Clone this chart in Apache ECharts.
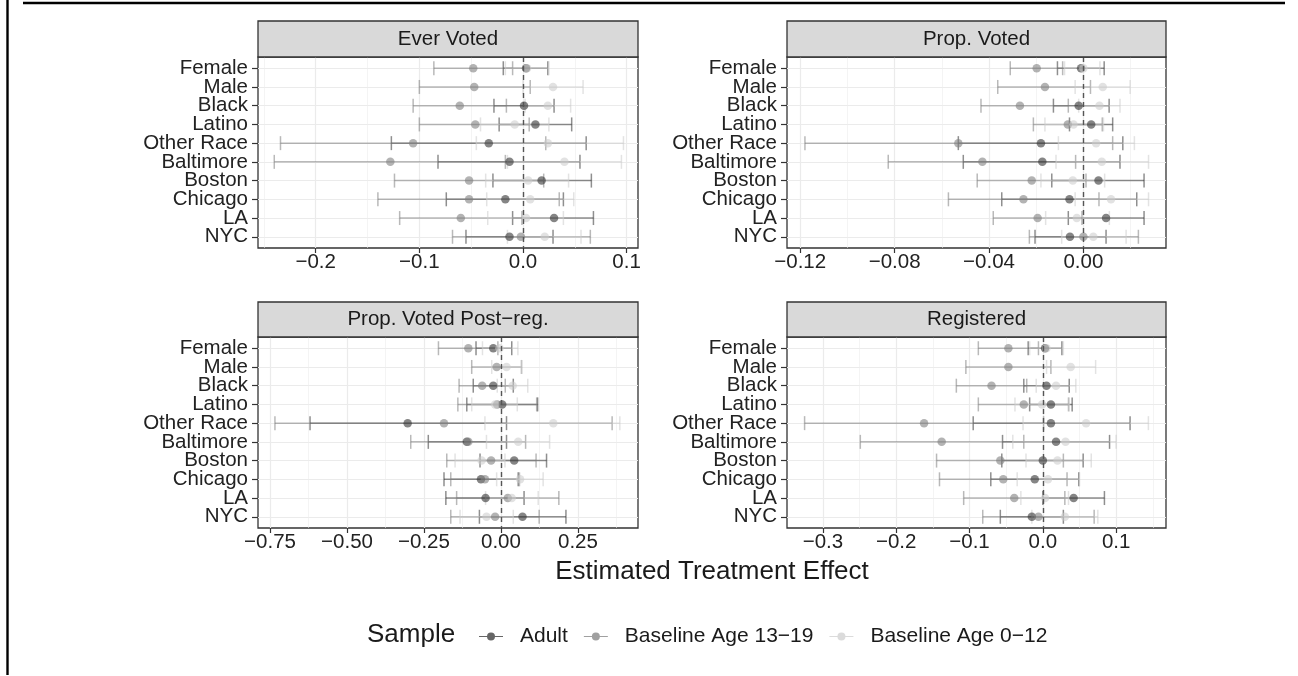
<!DOCTYPE html>
<html>
<head>
<meta charset="utf-8">
<script src="https://cdn.jsdelivr.net/npm/echarts@6/dist/echarts.min.js"></script>
<style>
html, body { margin: 0; padding: 0; background: #fff; }
#chart { width: 1298px; height: 676px; }
</style>
</head>
<body>
<div id="chart"></div>
<script>
const categories = ['Female', 'Male', 'Black', 'Latino', 'Other Race', 'Baltimore', 'Boston', 'Chicago', 'LA', 'NYC']
const sampleNames = ['Adult', 'Baseline Age 13−19', 'Baseline Age 0−12']
const panelTitles = ['Ever Voted', 'Prop. Voted', 'Prop. Voted Post−reg.', 'Registered']

// each row: [estimate, lower, upper], null = no estimate
const everVotedAdult = [[0.003, -0.019, 0.024], null, [0.001, -0.028, 0.030], [0.012, -0.023, 0.047], [-0.033, -0.127, 0.061],
    [-0.013, -0.082, 0.055], [0.018, -0.029, 0.066], [-0.017, -0.074, 0.039], [0.030, -0.010, 0.068], [-0.013, -0.055, 0.029]]
const everVotedTeen = [[-0.048, -0.086, -0.010], [-0.047, -0.100, 0.007], [-0.061, -0.106, -0.016], [-0.046, -0.100, 0.006], [-0.106, -0.234, 0.022],
    [-0.128, -0.240, -0.017], [-0.052, -0.124, 0.020], [-0.052, -0.140, 0.035], [-0.060, -0.119, -0.001], [-0.002, -0.068, 0.065]]
const everVotedChild = [[0.004, -0.017, 0.025], [0.029, 0.000, 0.058], [0.024, 0.002, 0.046], [-0.008, -0.041, 0.025], [0.024, -0.045, 0.097],
    [0.040, -0.015, 0.095], [0.005, -0.036, 0.044], [0.007, -0.035, 0.049], [0.003, -0.034, 0.039], [0.021, -0.015, 0.056]]

const propVotedAdult = [[-0.001, -0.011, 0.0088], null, [-0.002, -0.0127, 0.0109], [0.0033, -0.0059, 0.0124], [-0.018, -0.053, 0.0167],
    [-0.0174, -0.0509, 0.0155], [0.0064, -0.0134, 0.0257], [-0.0059, -0.0346, 0.0226], [0.0096, -0.0064, 0.0257], [-0.0057, -0.0205, 0.0096]]
const propVotedTeen = [[-0.0198, -0.031, -0.0088], [-0.0163, -0.0363, 0.003], [-0.0269, -0.0434, -0.0064], [-0.0066, -0.0212, 0.008], [-0.053, -0.118, 0.0124],
    [-0.0428, -0.0827, -0.0033], [-0.0219, -0.045, 0.0011], [-0.0254, -0.0572, 0.0066], [-0.0194, -0.0382, -0.0006], [0.0, -0.0229, 0.0233]]
const propVotedChild = [[0.0, -0.008, 0.007], [0.0082, -0.0035, 0.0198], [0.0068, -0.002, 0.0155], [-0.0042, -0.0163, 0.0085], [0.0054, -0.0106, 0.0216],
    [0.0078, -0.0116, 0.0276], [-0.0045, -0.018, 0.009], [0.0117, -0.0035, 0.0276], [-0.0028, -0.016, 0.011], [0.0042, -0.0092, 0.0181]]

const postRegAdult = [[-0.025, -0.081, 0.035], null, [-0.025, -0.090, 0.040], [0.004, -0.111, 0.119], [-0.303, -0.620, 0.018],
    [-0.111, -0.236, 0.018], [0.043, -0.068, 0.148], [-0.065, -0.185, 0.056], [-0.050, -0.179, 0.075], [0.070, -0.070, 0.211]]
const postRegTeen = [[-0.106, -0.203, -0.010], [-0.014, -0.095, 0.067], [-0.061, -0.136, 0.014], [-0.012, -0.140, 0.116], [-0.185, -0.734, 0.361],
    [-0.106, -0.293, 0.080], [-0.032, -0.176, 0.114], [-0.052, -0.163, 0.060], [0.022, -0.144, 0.188], [-0.019, -0.163, 0.124]]
const postRegChild = [[-0.005, -0.060, 0.055], [0.018, -0.030, 0.066], [0.038, -0.012, 0.087], [-0.019, -0.095, 0.053], [0.170, -0.052, 0.386],
    [0.056, -0.047, 0.158], [-0.063, -0.149, 0.013], [0.062, -0.014, 0.137], [0.035, -0.050, 0.121], [-0.047, -0.133, 0.040]]

const registeredAdult = [[0.003, -0.020, 0.026], null, [0.005, -0.026, 0.036], [0.011, -0.018, 0.040], [0.011, -0.095, 0.119],
    [0.018, -0.055, 0.091], [0.000, -0.056, 0.055], [-0.011, -0.071, 0.049], [0.042, 0.000, 0.084], [-0.015, -0.058, 0.028]]
const registeredTeen = [[-0.047, -0.088, -0.006], [-0.047, -0.105, 0.011], [-0.070, -0.118, -0.022], [-0.026, -0.088, 0.035], [-0.162, -0.325, 0.001],
    [-0.138, -0.249, -0.026], [-0.058, -0.145, 0.028], [-0.054, -0.141, 0.033], [-0.039, -0.108, 0.030], [-0.006, -0.082, 0.070]]
const registeredChild = [[0.005, -0.018, 0.028], [0.038, 0.005, 0.072], [0.018, -0.009, 0.045], [-0.001, -0.038, 0.036], [0.059, -0.027, 0.144],
    [0.031, -0.041, 0.100], [0.020, -0.023, 0.066], [0.007, -0.035, 0.050], [0.003, -0.030, 0.035], [0.030, -0.015, 0.075]]

// tick labels of each panel
const majorTicks = [[-0.2, -0.1, 0, 0.1], [-0.12, -0.08, -0.04, 0], [-0.75, -0.5, -0.25, 0, 0.25], [-0.3, -0.2, -0.1, 0, 0.1]]
const minorTicks = [[-0.25, -0.15, -0.05, 0.05], [-0.1, -0.06, -0.02, 0.02], [-0.625, -0.375, -0.125, 0.125, 0.375], [-0.25, -0.15, -0.05, 0.05, 0.15]]
const tickDigits = [1, 2, 2, 1]

const panelData = [
    [everVotedAdult, everVotedTeen, everVotedChild],
    [propVotedAdult, propVotedTeen, propVotedChild],
    [postRegAdult, postRegTeen, postRegChild],
    [registeredAdult, registeredTeen, registeredChild]
]

// layout of the four facets
const panels = [
    { left: 258, top: 57, width: 380, height: 191, min: -0.2557, max: 0.111 },
    { left: 787, top: 57, width: 379, height: 191, min: -0.1256, max: 0.035 },
    { left: 258, top: 337, width: 380, height: 191, min: -0.789, max: 0.445 },
    { left: 787, top: 337, width: 379, height: 191, min: -0.349, max: 0.168 }
]
const stripHeight = [36, 36, 35, 35]

const pointColors = ['rgba(51,51,51,0.75)', 'rgba(128,128,128,0.75)', 'rgba(204,204,204,0.7)']
const barColors = ['rgba(51,51,51,0.55)', 'rgba(128,128,128,0.55)', 'rgba(204,204,204,0.55)']
const fontFamily = "'Liberation Sans', Arial, Helvetica, sans-serif"
const textColor = '#222'
// rows split in two sets so neighbouring labels are never dropped as overlaps
const evenRows = categories.map((c, i) => i).filter(i => i % 2 === 0)
const oddRows = categories.map((c, i) => i).filter(i => i % 2 === 1)

function formatTick(v, digits) {
    const s = Math.abs(v).toFixed(digits)
    return v < -1e-9 ? '−' + s : s
}

function errorBar(color) {
    return function (params, api) {
        const lo = api.coord([api.value(1), api.value(3)])
        const hi = api.coord([api.value(2), api.value(3)])
        const cap = 7
        const style = { stroke: color, lineWidth: 1.5 }
        return {
            type: 'group',
            children: [
                { type: 'line', shape: { x1: lo[0], y1: lo[1], x2: hi[0], y2: hi[1] }, style },
                { type: 'line', shape: { x1: lo[0], y1: lo[1] - cap, x2: lo[0], y2: lo[1] + cap }, style },
                { type: 'line', shape: { x1: hi[0], y1: hi[1] - cap, x2: hi[0], y2: hi[1] + cap }, style }
            ]
        }
    }
}

function rowAxis(gridIndex, rows) {
    return {
        type: 'value', gridIndex, min: -0.6, max: 9.6, inverse: true, position: 'left', offset: 0,
        axisLine: { show: false, onZero: false },
        axisTick: { show: true, length: 6, customValues: rows, lineStyle: { color: '#333', width: 1.2 } },
        axisLabel: {
            customValues: rows, margin: 10, fontSize: 20.5, color: textColor, fontFamily,
            showMinLabel: true, showMaxLabel: true,
            formatter: v => categories[Math.round(v)]
        },
        splitLine: { show: true, lineStyle: { color: '#ebebeb', width: 1.2 } }
    }
}

const grid = []
const xAxis = []
const yAxis = []
const series = []
const graphic = []

panels.forEach((p, i) => {
    grid.push({
        left: p.left, top: p.top, width: p.width, height: p.height,
        show: true, borderColor: '#333', borderWidth: 1.3, backgroundColor: 'transparent',
        containLabel: false, outerBoundsMode: 'none'
    })
    // main x axis with labels and major gridlines
    xAxis.push({
        type: 'value', gridIndex: i, min: p.min, max: p.max, position: 'bottom',
        axisLine: { show: false, onZero: false },
        axisTick: { show: true, length: 5, customValues: majorTicks[i], lineStyle: { color: '#333', width: 1.2 } },
        axisLabel: {
            customValues: majorTicks[i], margin: 4, fontSize: 20.5, color: textColor, fontFamily,
            showMinLabel: true, showMaxLabel: true,
            formatter: v => formatTick(v, tickDigits[i])
        },
        splitLine: { show: true, lineStyle: { color: '#ebebeb', width: 1.2 } }
    })
    // hidden axis only for minor gridlines
    xAxis.push({
        type: 'value', gridIndex: i, min: p.min, max: p.max, position: 'bottom',
        axisLine: { show: false, onZero: false },
        axisTick: { show: false, customValues: minorTicks[i] },
        axisLabel: { show: false },
        splitLine: { show: true, lineStyle: { color: '#ededed', width: 0.6 } }
    })
    yAxis.push(rowAxis(i, evenRows))
    yAxis.push(rowAxis(i, oddRows))

    const groups = panelData[i]
    groups.forEach((rows, s) => {
        const item = {
            type: 'custom', name: sampleNames[s], xAxisIndex: i * 2, yAxisIndex: i * 2,
            renderItem: errorBar(barColors[s]),
            itemStyle: { color: pointColors[s] },
            encode: { x: [1, 2], y: 3 },
            data: rows.map((r, k) => r ? [r[0], r[1], r[2], k] : null).filter(Boolean),
            z: 2
        }
        if (s === 0) {
            item.markLine = {
                silent: true, symbol: ['none', 'none'], label: { show: false },
                lineStyle: { color: '#555', width: 1.4, type: [5, 4] },
                data: [{ xAxis: 0 }]
            }
        }
        series.push(item)
    })
    groups.forEach((rows, s) => {
        series.push({
            type: 'scatter', name: sampleNames[s], xAxisIndex: i * 2, yAxisIndex: i * 2,
            symbolSize: 8.5, itemStyle: { color: pointColors[s] },
            data: rows.map((r, k) => r ? [r[0], k] : null).filter(Boolean),
            z: 3
        })
    })

    // facet strip
    const sy = p.top - stripHeight[i]
    graphic.push({
        type: 'rect', z: 100,
        shape: { x: p.left, y: sy, width: p.width, height: stripHeight[i] },
        style: { fill: '#d9d9d9', stroke: '#333', lineWidth: 1.3 }
    })
    graphic.push({
        type: 'text', z: 101, x: p.left + p.width / 2, y: sy + stripHeight[i] / 2,
        style: { text: panelTitles[i], fontSize: 20.5, fill: '#1a1a1a', fontFamily, align: 'center', verticalAlign: 'middle' }
    })
})

graphic.push({
    type: 'text', x: 712, y: 572,
    style: { text: 'Estimated Treatment Effect', fontSize: 26, fill: '#1a1a1a', fontFamily, align: 'center', verticalAlign: 'middle' }
})
graphic.push({
    type: 'text', x: 367, y: 635,
    style: { text: 'Sample', fontSize: 26, fill: '#1a1a1a', fontFamily, align: 'left', verticalAlign: 'middle' }
})
// outer frame lines
graphic.push({ type: 'line', shape: { x1: 23, y1: 3, x2: 1285, y2: 3 }, style: { stroke: '#000', lineWidth: 2.6 } })
graphic.push({ type: 'line', shape: { x1: 7.5, y1: 0, x2: 7.5, y2: 675 }, style: { stroke: '#000', lineWidth: 2.4 } })

const chart = echarts.init(document.getElementById('chart'), null, { renderer: 'canvas' })
chart.setOption({
    animation: false,
    backgroundColor: '#fff',
    grid,
    xAxis,
    yAxis,
    legend: {
        data: sampleNames,
        left: 474, top: 621,
        itemWidth: 24, itemHeight: 8, itemGap: 16,
        icon: 'path://M0,4.4 L24,4.4 L24,5.6 L0,5.6 Z M8,5 A4,4 0 1,1 16,5 A4,4 0 1,1 8,5 Z',
        textStyle: { fontSize: 21, color: '#1a1a1a', fontFamily, padding: [0, 0, 0, 12] },
        selectedMode: false
    },
    graphic,
    series
})
</script>
</body>
</html>
